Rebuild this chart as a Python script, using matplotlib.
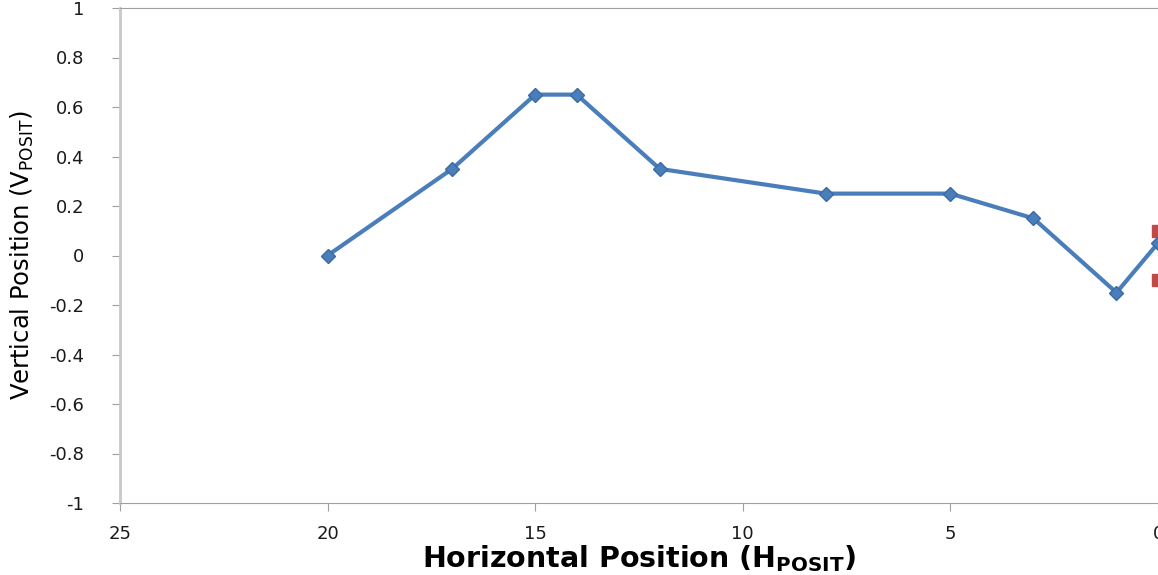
import matplotlib
matplotlib.use('Agg')
import matplotlib.pyplot as plt

# data
h_posit = [20, 17, 15, 14, 12, 8, 5, 3, 1, 0]
v_posit = [0, 0.35, 0.65, 0.65, 0.35, 0.25, 0.25, 0.15, -0.15, 0.05]
ref_h = [0, 0]
ref_v = [0.1, -0.1]

x_ticks = [25, 20, 15, 10, 5, 0]
y_ticks = [-1, -0.8, -0.6, -0.4, -0.2, 0, 0.2, 0.4, 0.6, 0.8, 1]
y_labels = ['-1', '-0.8', '-0.6', '-0.4', '-0.2', '0', '0.2', '0.4', '0.6', '0.8', '1']

fig = plt.figure(figsize=(11.58, 5.75), dpi=100)
ax = fig.add_axes([120 / 1158, 72 / 575, 1 - 120 / 1158, 495 / 575])

ax.plot(h_posit, v_posit, color='#4A7EBB', lw=3, marker='D', ms=7,
        markerfacecolor='#4A7EBB', markeredgecolor='#3B6AA3', zorder=3)
ax.plot(ref_h, ref_v, ls='none', marker='s', ms=8, color='#BE4B48', zorder=2)

ax.set_xlim(25, 0)
ax.set_ylim(-1, 1)
ax.set_xticks(x_ticks)
ax.set_xticklabels([str(t) for t in x_ticks])
ax.set_yticks(y_ticks)
ax.set_yticklabels(y_labels)

for side in ['left', 'bottom', 'top']:
    ax.spines[side].set_color('#A0A0A0')
ax.spines['left'].set_linewidth(2)
ax.spines['left'].set_color('#C8C8C8')
ax.spines['right'].set_visible(False)
ax.tick_params(axis='both', colors='#A0A0A0', labelcolor='#1A1A1A', labelsize=13,
               length=6, direction='out')
ax.tick_params(axis='y', pad=20)
ax.tick_params(axis='x', pad=10)

ax.set_xlabel('Horizontal Position (H$_{\\mathregular{POSIT}}$)', fontsize=20.5,
              fontweight='bold', labelpad=0)
ax.set_ylabel('Vertical Position (V$_{\\mathregular{POSIT}}$)', fontsize=17.5,
              fontweight='medium', labelpad=9)

fig.savefig('out.png', dpi=100)
